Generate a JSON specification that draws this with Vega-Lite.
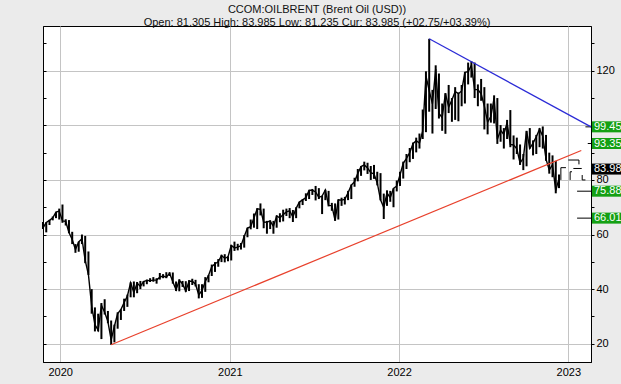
{
 "$schema": "https://vega.github.io/schema/vega-lite/v6.json",
 "width": 548, "height": 336,
 "autosize": "none",
 "padding": {"left": 43, "top": 26, "right": 30, "bottom": 22},
 "background": "#ebebeb",
 "title": {"text": "CCOM:OILBRENT (Brent Oil (USD))", "subtitle": "Open: 81.305 High: 83.985 Low: 81.235 Cur: 83.985 (+02.75/+03.39%)", "anchor": "middle", "frame": "group", "offset": -2, "font": "Liberation Sans", "fontSize": 11, "fontWeight": "normal", "color": "#111111", "subtitleFont": "Liberation Sans", "subtitleFontSize": 11, "subtitleColor": "#111111", "subtitlePadding": 2},
 "config": {"view": {"stroke": "black", "strokeWidth": 1, "fill": "white"}, "axis": {"labelFont": "Liberation Sans", "labelFontSize": 11, "labelColor": "black", "gridColor": "#c4c4c4", "domainColor": "black", "tickColor": "black", "title": null}},
 "datasets": {
  "weekly": [
   {"d":"2019-11-25","l":62.0,"h":64.6,"c":62.4},{"d":"2019-12-02","l":60.8,"h":64.5,"c":64.4},{"d":"2019-12-09","l":63.5,"h":65.4,"c":65.2},{"d":"2019-12-16","l":65.2,"h":66.6,"c":66.1},{"d":"2019-12-23","l":66.0,"h":68.3,"c":68.2},{"d":"2019-12-30","l":65.5,"h":69.5,"c":68.6},
   {"d":"2020-01-06","l":64.3,"h":71.0,"c":65.0},{"d":"2020-01-13","l":63.3,"h":65.6,"c":64.8},{"d":"2020-01-20","l":60.5,"h":65.3,"c":60.7},{"d":"2020-01-27","l":56.5,"h":61.0,"c":58.2},{"d":"2020-02-03","l":53.3,"h":56.5,"c":54.5},{"d":"2020-02-10","l":53.7,"h":57.4,"c":57.3},{"d":"2020-02-17","l":56.5,"h":60.0,"c":58.5},{"d":"2020-02-24","l":49.5,"h":59.5,"c":50.5},{"d":"2020-03-02","l":45.2,"h":53.8,"c":45.3},{"d":"2020-03-09","l":31.0,"h":40.0,"c":33.8},{"d":"2020-03-16","l":24.5,"h":33.3,"c":27.0},{"d":"2020-03-23","l":24.5,"h":31.0,"c":24.9},{"d":"2020-03-30","l":21.7,"h":34.9,"c":34.1},{"d":"2020-04-06","l":30.7,"h":36.3,"c":31.5},{"d":"2020-04-13","l":27.5,"h":32.0,"c":28.1},{"d":"2020-04-20","l":19.6,"h":28.5,"c":21.4},{"d":"2020-04-27","l":20.5,"h":27.0,"c":26.4},{"d":"2020-05-04","l":25.5,"h":31.5,"c":31.0},{"d":"2020-05-11","l":28.7,"h":32.6,"c":32.5},{"d":"2020-05-18","l":32.0,"h":36.5,"c":35.1},{"d":"2020-05-25","l":33.5,"h":38.0,"c":37.5},{"d":"2020-06-01","l":37.0,"h":42.5,"c":42.3},{"d":"2020-06-08","l":37.0,"h":42.8,"c":38.7},{"d":"2020-06-15","l":38.5,"h":42.6,"c":42.2},{"d":"2020-06-22","l":40.0,"h":43.0,"c":41.0},{"d":"2020-06-29","l":41.0,"h":43.0,"c":42.8},{"d":"2020-07-06","l":41.8,"h":43.5,"c":43.2},{"d":"2020-07-13","l":42.6,"h":44.0,"c":43.1},{"d":"2020-07-20","l":42.7,"h":44.4,"c":43.3},{"d":"2020-07-27","l":42.0,"h":44.0,"c":43.3},{"d":"2020-08-03","l":43.5,"h":45.9,"c":44.4},{"d":"2020-08-10","l":44.0,"h":45.5,"c":44.8},{"d":"2020-08-17","l":44.0,"h":46.2,"c":44.4},{"d":"2020-08-24","l":44.8,"h":46.2,"c":45.8},{"d":"2020-08-31","l":42.0,"h":46.1,"c":42.7},{"d":"2020-09-07","l":39.3,"h":42.8,"c":39.8},{"d":"2020-09-14","l":39.2,"h":43.6,"c":43.2},{"d":"2020-09-21","l":40.8,"h":43.0,"c":41.9},{"d":"2020-09-28","l":39.0,"h":42.9,"c":39.3},{"d":"2020-10-05","l":39.3,"h":43.3,"c":42.9},{"d":"2020-10-12","l":41.5,"h":43.8,"c":42.9},{"d":"2020-10-19","l":41.0,"h":43.4,"c":41.8},{"d":"2020-10-26","l":36.6,"h":41.8,"c":37.9},{"d":"2020-11-02","l":36.8,"h":41.8,"c":39.5},{"d":"2020-11-09","l":39.0,"h":44.4,"c":42.8},{"d":"2020-11-16","l":42.5,"h":45.2,"c":45.0},{"d":"2020-11-23","l":44.8,"h":49.0,"c":48.2},{"d":"2020-11-30","l":46.3,"h":49.9,"c":49.3},{"d":"2020-12-07","l":48.2,"h":51.0,"c":50.0},{"d":"2020-12-14","l":49.9,"h":52.6,"c":52.3},{"d":"2020-12-21","l":49.8,"h":52.8,"c":51.3},{"d":"2020-12-28","l":50.2,"h":52.0,"c":51.8},
   {"d":"2021-01-04","l":50.5,"h":56.2,"c":56.0},{"d":"2021-01-11","l":54.0,"h":57.4,"c":55.1},{"d":"2021-01-18","l":54.2,"h":56.6,"c":55.4},{"d":"2021-01-25","l":54.5,"h":56.9,"c":55.9},{"d":"2021-02-01","l":55.2,"h":59.8,"c":59.3},{"d":"2021-02-08","l":59.0,"h":62.5,"c":62.4},{"d":"2021-02-15","l":61.9,"h":65.5,"c":62.9},{"d":"2021-02-22","l":62.5,"h":67.7,"c":66.1},{"d":"2021-03-01","l":62.0,"h":69.6,"c":69.4},{"d":"2021-03-08","l":67.0,"h":71.4,"c":69.2},{"d":"2021-03-15","l":62.3,"h":69.5,"c":64.5},{"d":"2021-03-22","l":60.3,"h":65.0,"c":64.6},{"d":"2021-03-29","l":62.0,"h":65.2,"c":64.9},{"d":"2021-04-05","l":60.3,"h":65.0,"c":63.0},{"d":"2021-04-12","l":62.5,"h":67.0,"c":66.8},{"d":"2021-04-19","l":64.5,"h":67.8,"c":66.1},{"d":"2021-04-26","l":64.8,"h":69.1,"c":67.3},{"d":"2021-05-03","l":66.8,"h":69.5,"c":68.3},{"d":"2021-05-10","l":66.0,"h":69.7,"c":68.7},{"d":"2021-05-17","l":64.6,"h":69.0,"c":66.4},{"d":"2021-05-24","l":66.0,"h":70.0,"c":69.6},{"d":"2021-05-31","l":69.6,"h":72.0,"c":71.9},{"d":"2021-06-07","l":70.8,"h":73.0,"c":72.7},{"d":"2021-06-14","l":72.3,"h":75.1,"c":73.5},{"d":"2021-06-21","l":73.0,"h":76.2,"c":76.2},{"d":"2021-06-28","l":74.5,"h":76.7,"c":76.2},{"d":"2021-07-05","l":72.5,"h":77.8,"c":75.6},{"d":"2021-07-12","l":73.0,"h":77.0,"c":73.6},{"d":"2021-07-19","l":67.5,"h":74.2,"c":74.1},{"d":"2021-07-26","l":72.6,"h":76.4,"c":76.3},{"d":"2021-08-02","l":70.3,"h":76.0,"c":70.7},{"d":"2021-08-09","l":68.7,"h":71.6,"c":70.6},{"d":"2021-08-16","l":65.0,"h":71.4,"c":65.2},{"d":"2021-08-23","l":65.5,"h":72.8,"c":72.7},{"d":"2021-08-30","l":70.5,"h":73.5,"c":72.6},{"d":"2021-09-06","l":71.0,"h":73.8,"c":72.9},{"d":"2021-09-13","l":72.6,"h":76.0,"c":75.3},{"d":"2021-09-20","l":73.0,"h":78.3,"c":78.1},{"d":"2021-09-27","l":77.5,"h":80.8,"c":79.3},{"d":"2021-10-04","l":79.5,"h":84.0,"c":82.4},{"d":"2021-10-11","l":81.5,"h":85.1,"c":84.9},{"d":"2021-10-18","l":83.5,"h":86.7,"c":85.5},{"d":"2021-10-25","l":82.2,"h":86.3,"c":84.4},{"d":"2021-11-01","l":80.0,"h":85.1,"c":82.7},{"d":"2021-11-08","l":80.4,"h":85.5,"c":82.2},{"d":"2021-11-15","l":78.0,"h":83.0,"c":78.9},{"d":"2021-11-22","l":72.5,"h":82.5,"c":72.7},{"d":"2021-11-29","l":65.7,"h":75.0,"c":69.9},{"d":"2021-12-06","l":70.5,"h":76.2,"c":75.2},{"d":"2021-12-13","l":72.0,"h":76.0,"c":73.5},{"d":"2021-12-20","l":70.0,"h":76.9,"c":76.9},{"d":"2021-12-27","l":75.8,"h":79.8,"c":77.8},
   {"d":"2022-01-03","l":77.8,"h":83.0,"c":81.8},{"d":"2022-01-10","l":80.5,"h":86.7,"c":86.1},{"d":"2022-01-17","l":84.0,"h":89.5,"c":87.9},{"d":"2022-01-24","l":86.5,"h":91.7,"c":90.0},{"d":"2022-01-31","l":87.7,"h":93.7,"c":93.3},{"d":"2022-02-07","l":90.1,"h":95.5,"c":94.4},{"d":"2022-02-14","l":91.5,"h":97.0,"c":93.5},{"d":"2022-02-21","l":95.0,"h":105.8,"c":97.9},{"d":"2022-02-28","l":97.5,"h":119.8,"c":118.1},{"d":"2022-03-07","l":105.0,"h":131.7,"c":112.7},{"d":"2022-03-14","l":97.0,"h":113.0,"c":107.9},{"d":"2022-03-21","l":106.0,"h":122.0,"c":120.6},{"d":"2022-03-28","l":102.5,"h":119.0,"c":104.4},{"d":"2022-04-04","l":98.0,"h":108.0,"c":102.8},{"d":"2022-04-11","l":96.9,"h":111.8,"c":111.7},{"d":"2022-04-18","l":104.5,"h":114.8,"c":106.7},{"d":"2022-04-25","l":101.3,"h":110.0,"c":109.3},{"d":"2022-05-02","l":102.0,"h":114.0,"c":112.4},{"d":"2022-05-09","l":101.5,"h":112.0,"c":111.6},{"d":"2022-05-16","l":107.0,"h":114.8,"c":112.6},{"d":"2022-05-23","l":108.0,"h":119.5,"c":119.4},{"d":"2022-05-30","l":115.0,"h":123.0,"c":119.7},{"d":"2022-06-06","l":117.5,"h":123.5,"c":122.0},{"d":"2022-06-13","l":110.0,"h":123.0,"c":113.1},{"d":"2022-06-20","l":107.0,"h":115.0,"c":113.1},{"d":"2022-06-27","l":109.0,"h":117.0,"c":111.6},{"d":"2022-07-04","l":98.5,"h":114.0,"c":107.0},{"d":"2022-07-11","l":96.7,"h":108.0,"c":101.2},{"d":"2022-07-18","l":101.0,"h":108.0,"c":103.2},{"d":"2022-07-25","l":100.7,"h":111.0,"c":110.0},{"d":"2022-08-01","l":93.2,"h":110.0,"c":94.9},{"d":"2022-08-08","l":94.0,"h":100.1,"c":98.2},{"d":"2022-08-15","l":91.5,"h":99.0,"c":96.7},{"d":"2022-08-22","l":95.0,"h":102.0,"c":101.0},{"d":"2022-08-29","l":92.0,"h":105.6,"c":93.0},{"d":"2022-09-05","l":87.5,"h":96.3,"c":92.8},{"d":"2022-09-12","l":89.5,"h":95.5,"c":91.4},{"d":"2022-09-19","l":85.5,"h":93.0,"c":86.2},{"d":"2022-09-26","l":83.6,"h":89.5,"c":88.0},{"d":"2022-10-03","l":85.0,"h":98.0,"c":97.9},{"d":"2022-10-10","l":91.5,"h":99.0,"c":91.6},{"d":"2022-10-17","l":89.0,"h":94.5,"c":93.5},{"d":"2022-10-24","l":89.5,"h":96.5,"c":95.8},{"d":"2022-10-31","l":92.0,"h":99.0,"c":98.6},{"d":"2022-11-07","l":91.5,"h":99.6,"c":96.0},{"d":"2022-11-14","l":87.0,"h":96.5,"c":87.6},{"d":"2022-11-21","l":82.3,"h":90.0,"c":83.6},{"d":"2022-11-28","l":81.0,"h":89.0,"c":85.6},{"d":"2022-12-05","l":75.1,"h":87.0,"c":76.1},{"d":"2022-12-12","l":77.0,"h":82.0,"c":80.6}
  ],
  "tail": [
   {"a":"2022-12-16","b":"2022-12-16","lo":80.0,"hi":84.5},{"a":"2022-12-16","b":"2022-12-27","lo":84.5,"hi":84.5},{"a":"2023-01-01","b":"2023-01-24","lo":87.3,"hi":87.3},{"a":"2023-01-24","b":"2023-01-24","lo":85.7,"hi":87.3},{"a":"2023-01-05","b":"2023-01-05","lo":80.0,"hi":83.0},{"a":"2023-01-05","b":"2023-01-09","lo":83.0,"hi":83.0},{"a":"2023-01-12","b":"2023-01-30","lo":84.2,"hi":84.2},{"a":"2023-01-31","b":"2023-01-31","lo":80.0,"hi":81.8},{"a":"2023-01-31","b":"2023-02-07","lo":80.0,"hi":80.0}
  ],
  "levels": [
   {"a":"2023-02-07","v":99.45},{"a":"2023-02-12","v":93.35},{"a":"2023-01-20","v":75.88},{"a":"2023-01-20","v":66.01}
  ],
  "trend": [
   {"d":"2022-03-07","v":131.7,"s":"resistance"},{"d":"2023-02-19","v":99.45,"s":"resistance"},{"d":"2020-04-20","v":19.6,"s":"support"},{"d":"2023-01-29","v":90.8,"s":"support"}
  ],
  "labels": [
   {"v":99.45,"t":"99.45","k":"target"},{"v":93.35,"t":"93.35","k":"target"},{"v":83.98,"t":"83.98","k":"current"},{"v":75.88,"t":"75.88","k":"target"},{"v":66.01,"t":"66.01","k":"target"}
  ]
 },
 "layer": [
  {
   "data": {"name": "weekly"},
   "mark": {"type": "rule", "color": "black", "strokeWidth": 2},
   "encoding": {
    "x": {"field": "d", "type": "temporal",
      "scale": {"type": "utc", "domain": [{"year":2019,"month":11,"date":25,"utc":true},{"year":2023,"month":2,"date":19,"utc":true}]},
      "axis": {"values": [{"year":2020,"month":1,"date":1,"utc":true},{"year":2021,"month":1,"date":1,"utc":true},{"year":2022,"month":1,"date":1,"utc":true},{"year":2023,"month":1,"date":1,"utc":true}], "format": "%Y", "grid": true, "ticks": false, "labelPadding": 4, "domainColor": "black"}},
    "y": {"field": "l", "type": "quantitative",
      "scale": {"domain": [13.3, 136.4], "nice": false, "zero": false},
      "axis": {"orient": "right", "values": [20,30,40,50,60,70,80,90,100,110,120,130], "labelExpr": "datum.value % 20 === 0 && datum.value !== 100 ? datum.label : ''", "grid": true, "gridOpacity": {"condition": {"test": "datum.value % 20 === 0", "value": 1}, "value": 0}, "tickSize": 3, "labelPadding": 2}},
    "y2": {"field": "h"}
   }
  },
  {
   "data": {"name": "weekly"},
   "mark": {"type": "line", "color": "black", "strokeWidth": 1.4},
   "encoding": {
    "x": {"field": "d", "type": "temporal"},
    "y": {"field": "c", "type": "quantitative", "axis": {"orient": "left", "values": [20,30,40,50,60,70,80,90,100,110,120,130], "labels": false, "grid": false, "tickSize": -3}}
   }
  },
  {
   "data": {"name": "tail"},
   "mark": {"type": "rule", "color": "black", "strokeWidth": 1},
   "encoding": {
    "x": {"field": "a", "type": "temporal"}, "x2": {"field": "b"},
    "y": {"field": "lo", "type": "quantitative", "axis": null}, "y2": {"field": "hi"}
   }
  },
  {
   "data": {"name": "levels"},
   "mark": {"type": "rule", "color": "black", "strokeWidth": 1},
   "encoding": {
    "x": {"field": "a", "type": "temporal"}, "x2": {"datum": {"year":2023,"month":2,"date":19,"utc":true}},
    "y": {"field": "v", "type": "quantitative", "axis": null}
   }
  },
  {
   "data": {"name": "trend"},
   "mark": {"type": "line", "strokeWidth": 1.2},
   "encoding": {
    "x": {"field": "d", "type": "temporal"},
    "y": {"field": "v", "type": "quantitative", "axis": null},
    "color": {"field": "s", "type": "nominal", "scale": {"domain": ["resistance", "support"], "range": ["#2b2bd6", "#e8412c"]}, "legend": null}
   }
  },
  {
   "data": {"name": "labels"},
   "mark": {"type": "tick", "orient": "horizontal", "size": 30, "thickness": 11, "xOffset": 16, "opacity": 1},
   "encoding": {
    "x": {"datum": {"year":2023,"month":2,"date":19,"utc":true}, "type": "temporal"},
    "y": {"field": "v", "type": "quantitative", "axis": null},
    "color": {"field": "k", "type": "nominal", "scale": {"domain": ["target", "current"], "range": ["#14a014", "#000000"]}, "legend": null}
   }
  },
  {
   "data": {"name": "labels"},
   "mark": {"type": "text", "align": "left", "baseline": "middle", "dx": 3, "font": "Liberation Sans", "fontSize": 11, "color": "white"},
   "encoding": {
    "x": {"datum": {"year":2023,"month":2,"date":19,"utc":true}, "type": "temporal"},
    "y": {"field": "v", "type": "quantitative", "axis": null},
    "text": {"field": "t"}
   }
  }
 ],
 "resolve": {"axis": {"y": "independent"}, "scale": {"color": "independent"}}
}
